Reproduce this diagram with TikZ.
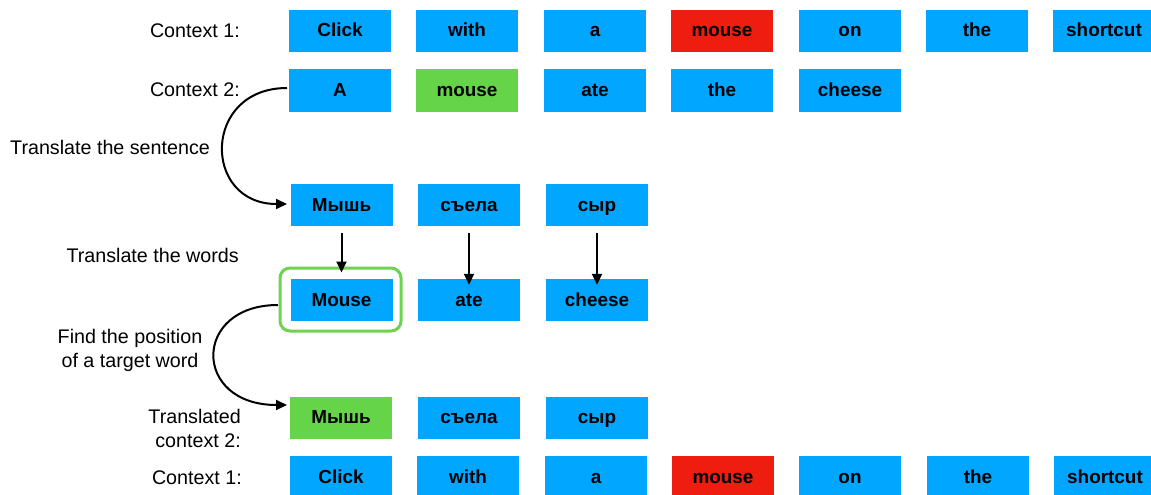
\documentclass[tikz,border=0pt]{standalone}
\usepackage{fontspec}
\setmainfont{Liberation Sans}
\usetikzlibrary{arrows.meta}
\definecolor{boxblue}{RGB}{0,166,255}
\definecolor{boxred}{RGB}{238,29,16}
\definecolor{boxgreen}{RGB}{102,212,72}
\definecolor{framegreen}{RGB}{110,211,80}
\tikzset{
  word/.style={fill=boxblue, minimum width=102pt, minimum height=42pt, inner sep=0pt,
    text height=13.5pt, text depth=1.5pt,
    font=\fontsize{18.9}{22}\selectfont\bfseries},
  redword/.style={word, fill=boxred},
  greenword/.style={word, fill=boxgreen},
  lbl/.style={inner sep=0pt, font=\fontsize{19.7}{24}\selectfont},
  conn/.style={line width=2pt, -{Triangle[length=11pt,width=10pt]}},
}
\begin{document}
\begin{tikzpicture}[x=1pt,y=-1pt]
\useasboundingbox (0,0) rectangle (1151,495);
\begin{scope}
\clip (0,0) rectangle (1151,495);
% Row 1: Context 1
\node[word] (c1a) at (340,31) {Click};
\node[word] (c1b) at (467,31) {with};
\node[word] (c1c) at (595,31) {a};
\node[redword] (c1d) at (722,31) {mouse};
\node[word] (c1e) at (850,31) {on};
\node[word] (c1f) at (977,31) {the};
\node[word] (c1g) at (1104,31) {shortcut};
% Row 2: Context 2
\node[word] (c2a) at (340,90.5) {A};
\node[greenword] (c2b) at (467,90.5) {mouse};
\node[word] (c2c) at (595,90.5) {ate};
\node[word] (c2d) at (722,90.5) {the};
\node[word] (c2e) at (850,90.5) {cheese};
% Row 3: translated sentence
\node[word] (r3a) at (341.5,205) {Мышь};
\node[word] (r3b) at (469,205) {съела};
\node[word] (r3c) at (597,205) {сыр};
% Row 4: word translations
\node[word] (r4a) at (341.5,300) {Mouse};
\node[word] (r4b) at (469,300) {ate};
\node[word] (r4c) at (597,300) {cheese};
\node[draw=framegreen, line width=3pt, rounded corners=10pt, minimum width=121pt,
      minimum height=63pt, inner sep=0pt] (frame) at (340.5,299.5) {};
% Row 5: translated context 2
\node[greenword] (r5a) at (341,417.5) {Мышь};
\node[word] (r5b) at (469,417.5) {съела};
\node[word] (r5c) at (597,417.5) {сыр};
% Row 6: Context 1
\node[word] (c3a) at (341,477) {Click};
\node[word] (c3b) at (468,477) {with};
\node[word] (c3c) at (596,477) {a};
\node[redword] (c3d) at (723,477) {mouse};
\node[word] (c3e) at (850,477) {on};
\node[word] (c3f) at (978,477) {the};
\node[word] (c3g) at (1105,477) {shortcut};
\end{scope}
% Labels
\node[lbl, anchor=east] (l1) at (240,31) {Context 1:};
\node[lbl, anchor=east] (l2) at (240,90) {Context 2:};
\node[lbl, anchor=west] (l3) at (10,147) {Translate the sentence};
\node[lbl, anchor=east] (l4) at (239,255) {Translate the words};
\node[lbl, align=center] (l5) at (130,350) {Find the position\\of a target word};
\node[lbl, align=right, anchor=east] (l6) at (241,428.5) {Translated\\context 2:};
\node[lbl, anchor=east] (l7) at (242,478) {Context 1:};
% Connectors
\coordinate (s1) at (287,88);
\coordinate (e1) at (287,204);
\draw[conn] (s1) .. controls (202,88) and (202,204) .. (e1);
\coordinate (s2) at (278,305);
\coordinate (e2) at (287,405);
\draw[conn] (s2) .. controls (192,305) and (192,405) .. (e2);
\draw[conn] ([yshift=-7pt]r3a.south) -- ([yshift=-6pt]r3a.south |- frame.north);
\draw[conn] ([yshift=-7pt]r3b.south) -- ([yshift=-6pt]r4b.north);
\draw[conn] ([yshift=-7pt]r3c.south) -- ([yshift=-6pt]r4c.north);
\end{tikzpicture}
\end{document}
